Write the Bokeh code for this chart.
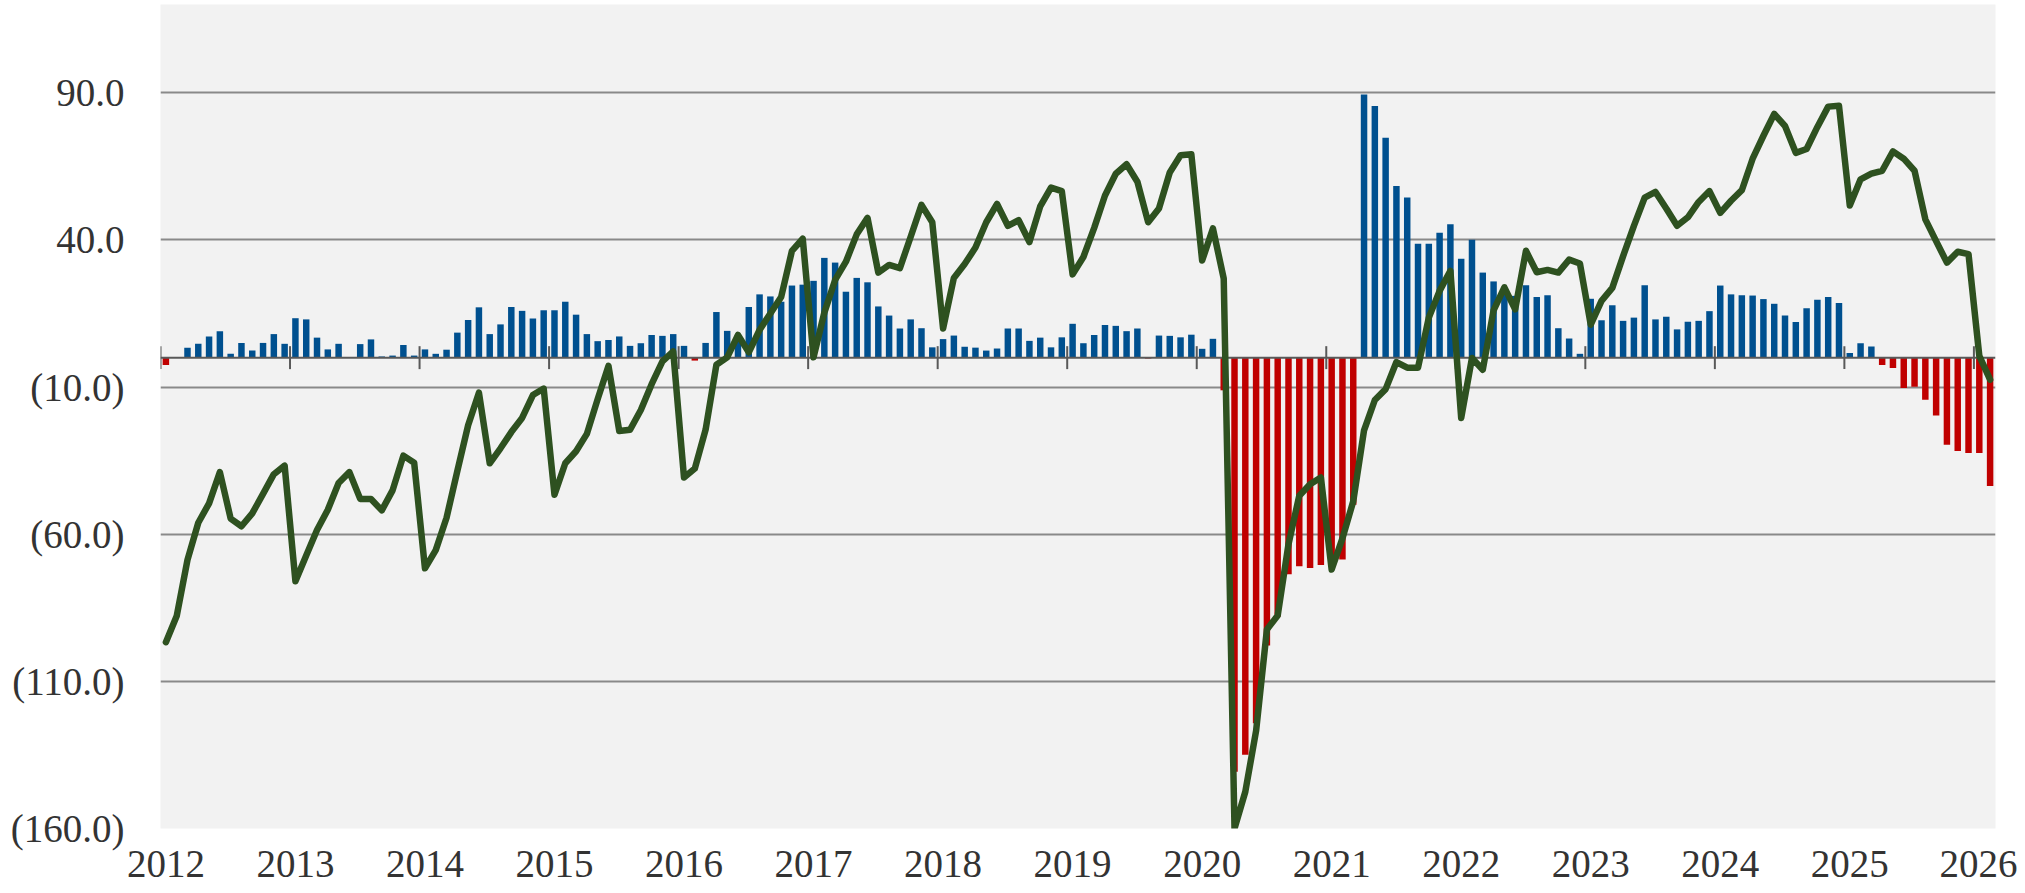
from bokeh.plotting import figure
from bokeh.models import Range1d, FixedTicker, CustomJSTickFormatter, ColumnDataSource
from bokeh.embed import file_html
from bokeh.resources import INLINE

# ---- data (monthly, Jan 2012 .. Feb 2026) ----
year_labels = ["2012", "2013", "2014", "2015", "2016", "2017", "2018",
               "2019", "2020", "2021", "2022", "2023", "2024", "2025", "2026"]

bar_values = [
    -2.5, 0, 3.4, 4.7, 7.2, 9.0, 1.3, 5.0, 2.4, 5.0, 8.0, 4.7,            # 2012
    13.4, 13.0, 6.8, 2.8, 4.7, 0, 4.6, 6.2, 0.4, 0.7, 4.3, 0.7,           # 2013
    2.8, 1.3, 2.7, 8.5, 12.8, 17.1, 8.0, 11.3, 17.2, 15.9, 13.3, 16.1,    # 2014
    16.1, 19.0, 14.6, 8.0, 5.6, 6.0, 7.2, 4.0, 4.9, 7.7, 7.4, 8.0,        # 2015
    4.0, -1.0, 5.0, 15.5, 9.1, 5.5, 17.2, 21.5, 20.8, 19.0, 24.5, 24.8,   # 2016
    26.1, 33.9, 32.3, 22.4, 27.1, 25.6, 17.4, 14.3, 9.9, 13.0, 10.0, 3.5, # 2017
    6.3, 7.5, 3.7, 3.4, 2.4, 3.1, 9.9, 9.9, 5.7, 6.8, 3.5, 6.9,           # 2018
    11.5, 4.9, 7.7, 11.1, 10.8, 9.0, 9.9, -0.3, 7.5, 7.4, 6.9, 7.8,       # 2019
    3.0, 6.4, -11.1, -140.7, -134.9, -124.2, -97.8, -88.0, -73.6, -70.9, -71.5, -70.5,  # 2020
    -70.0, -68.6, -50.0, 89.4, 85.5, 74.7, 58.3, 54.4, 38.7, 38.7, 42.4, 45.3,          # 2021
    33.6, 40.1, 28.9, 25.9, 22.5, 21.0, 24.6, 20.6, 21.2, 10.0, 6.5, 1.3, # 2022
    20.0, 12.7, 17.8, 12.5, 13.6, 24.6, 13.0, 13.9, 9.6, 12.2, 12.5, 15.8,# 2023
    24.5, 21.5, 21.2, 21.1, 19.9, 18.3, 14.3, 12.1, 16.8, 19.7, 20.6, 18.6,  # 2024
    1.6, 4.9, 3.8, -2.5, -3.5, -10.3, -9.9, -14.3, -19.7, -29.6, -31.7, -32.4,  # 2025
    -32.4, -43.6,                                                          # 2026
]

line_values = [
    -96.7, -87.8, -68.7, -56.1, -49.5, -38.9, -54.7, -57.3, -52.9, -46.3, -39.6, -36.7,
    -76.0, -67.2, -58.6, -51.7, -42.6, -38.9, -48.0, -48.0, -51.9, -45.1, -33.3, -35.7,
    -71.6, -65.4, -54.4, -38.5, -23.0, -11.9, -35.9, -30.8, -25.3, -20.5, -12.7, -10.5,
    -46.6, -35.9, -31.8, -25.9, -14.1, -2.8, -24.9, -24.5, -17.8, -9.0, -1.3, 2.1,
    -40.7, -37.7, -24.5, -2.4, 0.1, 7.7, 1.8, 9.4, 15.0, 20.6, 36.3, 40.4,
    0.1, 15.3, 26.4, 32.6, 41.9, 47.5, 28.9, 31.5, 30.4, 41.1, 51.9, 46.0,
    9.9, 27.1, 31.8, 37.4, 46.0, 52.2, 44.8, 46.7, 39.3, 51.4, 57.8, 56.6,
    28.3, 34.2, 44.1, 55.1, 62.5, 65.7, 59.8, 46.0, 50.7, 62.9, 68.8, 69.1,
    33.0, 43.9, 26.9, -160.0, -147.5, -126.8, -92.4, -87.6, -63.4, -46.9, -43.0, -40.7,
    -72.0, -61.4, -48.8, -24.7, -14.4, -10.7, -1.5, -3.4, -3.4, 13.6, 22.7, 29.5,
    -20.5, -0.1, -4.1, 16.1, 23.9, 16.4, 36.3, 29.0, 29.8, 28.9, 33.3, 32.0,
    11.2, 19.3, 23.7, 34.5, 44.8, 54.4, 56.3, 50.7, 44.8, 47.7, 52.9, 56.6,
    49.2, 53.3, 56.9, 67.6, 75.4, 82.8, 78.7, 69.6, 70.9, 78.4, 85.3, 85.6,
    51.7, 60.6, 62.5, 63.5, 70.1, 67.6, 63.5, 47.0, 39.6, 32.3, 36.0, 35.2,
    0.6, -7.5,
]

y_ticks = [-160, -110, -60, -10, 40, 90]

# ---- build ----
n = len(bar_values)
xs = [i + 0.5 for i in range(n)]
BLUE = "#00508F"
RED = "#C00000"
GREEN = "#2E5120"
TEXT = "#333333"

src = ColumnDataSource(dict(
    x=xs,
    top=bar_values,
    color=[BLUE if v >= 0 else RED for v in bar_values],
    line=line_values,
))

p = figure(width=2017, height=893,
           x_range=Range1d(0, n), y_range=Range1d(-160, 120),
           output_backend="svg", toolbar_location=None,
           min_border_left=160, min_border_right=22,
           min_border_top=4, min_border_bottom=65)

p.background_fill_color = "#F2F2F2"
p.border_fill_color = "white"
p.outline_line_color = None

# grid
p.xgrid.visible = False
p.ygrid.ticker = FixedTicker(ticks=y_ticks)
p.ygrid.grid_line_color = "#898989"
p.ygrid.grid_line_width = 2

# y axis
ya = p.yaxis[0]
ya.ticker = FixedTicker(ticks=y_ticks)
ya.formatter = CustomJSTickFormatter(code="""
    return tick < 0 ? '(' + Math.abs(tick).toFixed(1) + ')' : tick.toFixed(1);
""")
ya.axis_line_color = None
ya.major_tick_line_color = None
ya.minor_tick_line_color = None
ya.major_tick_out = 0
ya.major_tick_in = 0
ya.major_label_standoff = 36
ya.major_label_text_font = "Liberation Serif"
ya.major_label_text_font_size = "39px"
ya.major_label_text_color = TEXT

# x axis (year labels under first month of each year)
xa = p.xaxis[0]
xa.ticker = FixedTicker(ticks=[12 * k + 0.5 for k in range(len(year_labels))])
xa.formatter = CustomJSTickFormatter(args=dict(labels=year_labels),
                                     code="return labels[Math.round((tick - 0.5) / 12)];")
xa.axis_line_color = None
xa.major_tick_line_color = None
xa.minor_tick_line_color = None
xa.major_tick_out = 0
xa.major_tick_in = 0
xa.major_label_standoff = 22
xa.major_label_text_font = "Liberation Serif"
xa.major_label_text_font_size = "39px"
xa.major_label_text_color = TEXT

# bars
p.vbar(x="x", top="top", bottom=0, width=0.6, fill_color="color",
       line_color=None, source=src)

# zero axis line with year-boundary tick marks
p.segment(x0=[0], y0=[0], x1=[n], y1=[0], line_color="#595959", line_width=2)
bx = [12 * k for k in range(len(year_labels))]
p.segment(x0=bx, y0=[-3.9] * len(bx), x1=bx, y1=[3.9] * len(bx),
          line_color="#595959", line_width=2)

# line series
p.line(x="x", y="line", source=src, line_color=GREEN, line_width=6.5,
       line_join="round", line_cap="round")

open("out.html", "w").write(file_html(p, INLINE))
